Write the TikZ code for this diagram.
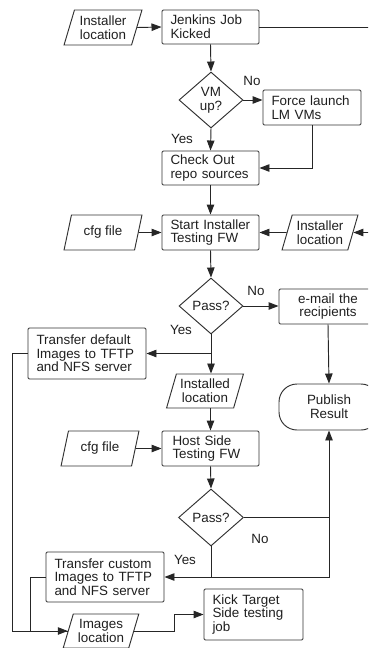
\documentclass[tikz,border=0pt]{standalone}
\usepackage{fontspec}
\setmainfont{Liberation Sans}
\usetikzlibrary{shapes.geometric,arrows.meta}

\begin{document}
\begin{tikzpicture}[x=1pt,y=-1pt,
  every node/.style={font=\fontsize{13.4}{13.7}\selectfont, text=black!88},
  line/.style={draw=black!85, line width=0.95pt},
  arr/.style={line, -{Triangle[length=10pt,width=7.5pt]}},
  shapeline/.style={draw=black!80, line width=0.95pt},
  box/.style={shapeline, rectangle, rounded corners=1.2pt, align=left, inner xsep=8.5pt, inner ysep=0pt},
  io/.style={shapeline, trapezium, trapezium left angle=70, trapezium right angle=110,
    trapezium stretches=true, align=center, inner sep=0pt, minimum height=35pt},
  decision/.style={shapeline, diamond, align=center, inner sep=0pt, minimum width=64pt, minimum height=56pt},
  term/.style={shapeline, rectangle, rounded corners=18pt, align=center, inner sep=0pt,
    minimum width=100pt, minimum height=46pt}
]
\useasboundingbox (0,0) rectangle (368,648);
\clip (0,0) rectangle (368,648);

% ---- nodes ----
\node[io, minimum width=78pt] (inst1) at (103,27.5) {Installer\\location};
\node[box, text width=80pt, minimum height=34pt] (jenkins) at (210.5,27) {Jenkins Job\\Kicked};
\node[decision] (vm) at (211,100) {VM\\up?};
\node[box, text width=81pt, minimum height=35pt] (force) at (312,107.5) {Force launch\\LM VMs};
\node[box, text width=80pt, minimum height=34pt] (checkout) at (210.5,168) {Check Out\\repo sources};
\node[box, text width=80pt, minimum height=35pt] (start) at (210.5,232.5) {Start Installer\\Testing FW};
\node[io, minimum width=78pt] (cfgA) at (103,232.5) {cfg file};
\node[io, minimum width=76pt] (inst2) at (320,232.5) {Installer\\location};
\node[decision] (passA) at (211,306) {Pass?};
\node[box, align=center, text width=81pt, minimum height=35pt] (email) at (328,306.5) {e-mail the\\recipients};
\node[box, text width=101pt, minimum height=51pt] (tdef) at (87,353.5) {Transfer default\\Images to TFTP\\and NFS server};
\node[io, minimum width=77pt, minimum height=34pt] (installed) at (205,391) {Installed\\location};
\node[term] (publish) at (329,407) {Publish\\Result};
\node[io, minimum width=78pt] (cfgB) at (100,448.5) {cfg file};
\node[box, text width=76pt, inner xsep=10.5pt, minimum height=35pt] (host) at (210.5,448.5) {Host Side\\Testing FW};
\node[decision, minimum width=65pt, minimum height=57pt] (passB) at (211,517.5) {Pass?};
\node[box, text width=101pt, minimum height=50pt] (tcus) at (105,577) {Transfer custom\\Images to TFTP\\and NFS server};
\node[io, minimum width=76pt, minimum height=34pt] (images) at (101,631) {Images\\location};
\node[box, text width=82pt, minimum height=51pt] (kick) at (253.5,614.5) {Kick Target\\Side testing\\job};

% ---- branch labels ----
\node (noA) at (252,81) {No};
\node (yesA) at (182,139) {Yes};
\node (noB) at (256,291) {No};
\node (yesB) at (181,330) {Yes};
\node (noC) at (260,539) {No};
\node (yesC) at (185,560) {Yes};

% ---- connectors ----
\draw[arr] (inst1.east) -- (jenkins.west);
\draw[arr] (jenkins.east) -- ++(140,0) |- (inst2.east);
\draw[arr] (jenkins.south) -- (vm.north);
\draw[arr] (vm.east) -- (vm.east -| force.west);
\draw[arr] (vm.south) -- (checkout.north);
\draw[arr] (force.south) |- (checkout.east);
\draw[arr] (checkout.south) -- (start.north);
\draw[arr] (cfgA.east) -- (start.west);
\draw[arr] (inst2.west) -- (start.east);
\draw[arr] (start.south) -- (passA.north);
\draw[arr] (passA.east) -- (passA.east -| email.west);
\draw[arr] (email.south) -- (publish.north);

\coordinate (splitA) at (passA.south |- tdef.east);
\draw[line] (passA.south) -- (splitA);
\draw[arr] (splitA) -- (tdef.east);
\draw[arr] (splitA) -- (passA.south |- installed.north);
\draw[arr] (host.north |- installed.south) -- (host.north);
\draw[arr] (cfgB.east) -- (host.west);
\draw[arr] (host.south) -- (passB.north);

\coordinate (splitB) at (publish.south |- passB.east);
\draw[line] (passB.east) -- (splitB);
\draw[arr] (splitB) -- (publish.south);
\draw[arr] (splitB) |- (tcus.east);
\draw[line] (passB.south) -- (passB.south |- tcus.east);

\draw[line] (tdef.west) -- ++(-15,0) |- (images.west);
\draw[arr] (tcus.west) -- ++(-15,0) |- (images.west);
\draw[arr] (images.east) -- ++(40,0) |- (kick.west);
\end{tikzpicture}
\end{document}
